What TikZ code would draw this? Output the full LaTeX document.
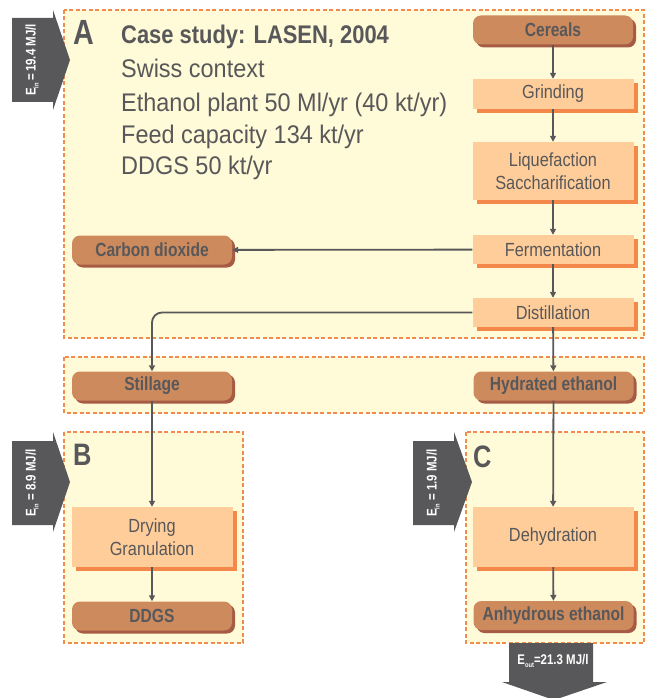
\documentclass[tikz,border=0pt]{standalone}
\usepackage{fontspec}
\setmainfont{Liberation Sans}[FakeStretch=0.92]
\newfontfamily\nodefont{Liberation Sans}[FakeStretch=0.86]
\newfontfamily\labfont{Liberation Sans}[FakeStretch=0.82]
\usetikzlibrary{arrows.meta,shadows}
\definecolor{boxfill}{HTML}{FFFAD7}
\definecolor{dashc}{HTML}{F28B4E}
\definecolor{procfill}{HTML}{FFCD99}
\definecolor{procsh}{HTML}{F3884A}
\definecolor{brownfill}{HTML}{CD8A5D}
\definecolor{brownsh}{HTML}{A65B44}
\definecolor{txt}{HTML}{58585A}
\definecolor{arrowc}{HTML}{58585A}
\begin{document}
\begin{tikzpicture}[x=1pt,y=-1pt,
  panel/.style={draw=dashc, fill=boxfill, line width=1.4pt, dash pattern=on 4pt off 2.5pt},
  proc/.style={fill=procfill, text=txt, minimum width=161pt, inner sep=0pt, align=center,
    font=\nodefont\fontsize{19}{23}\selectfont,
    general shadow={fill=procsh, shadow xshift=4pt, shadow yshift=-4pt}},
  prod/.style={fill=brownfill, text=txt, rounded corners=8pt, minimum width=160pt,
    minimum height=29pt, inner sep=0pt, font=\labfont\bfseries\fontsize{19}{22}\selectfont,
    general shadow={fill=brownsh, shadow xshift=3pt, shadow yshift=-3pt}},
  conn/.style={draw=arrowc, line width=1.8pt, -{Triangle[length=6pt,width=6pt]}},
  bigarrow/.style={fill=arrowc, draw=none},
  elabel/.style={text=white, font=\labfont\bfseries\fontsize{14}{16}\selectfont, inner sep=0pt},
  letter/.style={text=txt, font=\labfont\bfseries\fontsize{35}{35}\selectfont, inner sep=0pt, anchor=base west},
  info/.style={text=txt, font=\fontsize{25.5}{30}\selectfont, inner sep=0pt, anchor=base west}
]
\useasboundingbox (0,0) rectangle (648,698);
\fill[white] (0,0) rectangle (648,698);

% panels
\draw[panel] (64,10) rectangle (644,338);
\draw[panel] (64,357) rectangle (644,413);
\draw[panel] (64,432) rectangle (243,643);
\draw[panel] (466,432) rectangle (644,643);

% energy arrows
\fill[bigarrow] (12,18) -- (53,18) -- (53,10) -- (70,60) -- (53,110) -- (53,102) -- (12,102) -- cycle;
\node[elabel, rotate=90] (ea) at (32,60) {E\raisebox{-0.4ex}{\fontsize{7}{7}\selectfont in}\,=\,19.4 MJ/l};
\fill[bigarrow] (12,441) -- (53,441) -- (53,432) -- (70,482) -- (53,532) -- (53,525) -- (12,525) -- cycle;
\node[elabel, rotate=90] (eb) at (32,483) {E\raisebox{-0.4ex}{\fontsize{7}{7}\selectfont in} = 8.9 MJ/l};
\fill[bigarrow] (413,441) -- (454,441) -- (454,432) -- (472,482) -- (454,532) -- (454,525) -- (413,525) -- cycle;
\node[elabel, rotate=90] (ec) at (433,483) {E\raisebox{-0.4ex}{\fontsize{7}{7}\selectfont in} = 1.9 MJ/l};
\fill[bigarrow] (509,643) -- (593,643) -- (593,682) -- (607,682) -- (554,700) -- (502,682) -- (509,682) -- cycle;
\node[elabel] (eo) at (553,661) {E\raisebox{-0.4ex}{\fontsize{7}{7}\selectfont out}=21.3 MJ/l};

% letters and info
\node[letter] (la) at (73,45) {A};
\node[letter, font=\labfont\bfseries\fontsize{31}{31}\selectfont] (lb) at (73,465) {B};
\node[letter, font=\labfont\bfseries\fontsize{31}{31}\selectfont] (lc) at (473,467) {C};
\node[info, font=\nodefont\bfseries\fontsize{25.5}{28}\selectfont] (i1) at (121,44) {Case study: LASEN, 2004};
\node[info] (i2) at (121,78) {Swiss context};
\node[info] (i3) at (121,112) {Ethanol plant 50 Ml/yr (40 kt/yr)};
\node[info] (i4) at (121,143) {Feed capacity 134 kt/yr};
\node[info] (i5) at (121,174) {DDGS 50 kt/yr};

% process nodes
\node[prod] (cer) at (553,30) {Cereals};
\node[proc, minimum height=30pt] (gri) at (553,94) {Grinding};
\node[proc, minimum height=58pt] (liq) at (553,171) {Liquefaction\\Saccharification};
\node[proc, minimum height=29pt] (fer) at (553,249.5) {Fermentation};
\node[proc, minimum height=29pt] (dis) at (553,312.5) {Distillation};
\node[prod] (co2) at (152,250) {Carbon dioxide};
\node[prod] (sti) at (152,386) {Stillage};
\node[prod] (hyd) at (553.5,386) {Hydrated ethanol};
\node[proc, minimum height=60pt] (dry) at (152,537) {Drying\\Granulation};
\node[prod] (ddg) at (152,616) {DDGS};
\node[proc, minimum height=60pt] (deh) at (553,537) {Dehydration};
\node[prod] (anh) at (553.5,615.5) {Anhydrous ethanol};

% connectors
\draw[conn] (cer) -- (gri);
\draw[conn] (gri) -- (liq);
\draw[conn] (liq) -- (fer);
\draw[conn] (fer) -- (dis);
\draw[conn] (fer) -- (co2);
\draw[conn, rounded corners=10pt] (dis.west) -| (sti.north);
\draw[conn] (dis) -- (hyd);
\draw[conn] (sti) -- (dry);
\draw[conn] (dry) -- (ddg);
\draw[conn] (hyd) -- (deh);
\draw[conn] (deh) -- (anh);
\end{tikzpicture}
\end{document}
